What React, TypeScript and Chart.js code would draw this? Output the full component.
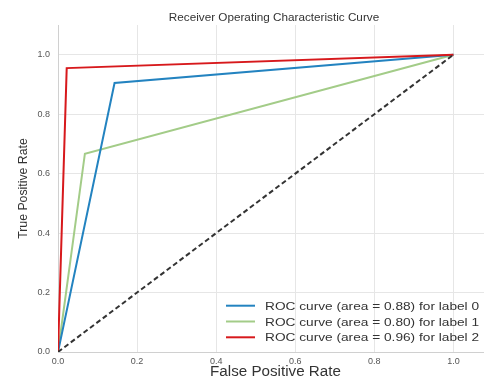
import React, { useEffect, useRef } from "react";
import { Chart, registerables } from "chart.js";

Chart.register(...registerables);

// ---- data ----
const chartTitle = "Receiver Operating Characteristic Curve";
const xAxisTitle = "False Positive Rate";
const yAxisTitle = "True Positive Rate";

const classNames = ["0", "1", "2"];
const aucValues = [0.88, 0.8, 0.96];

const fprLabel0 = [0, 0.143, 1];
const tprLabel0 = [0, 0.905, 1];
const fprLabel1 = [0, 0.068, 1];
const tprLabel1 = [0, 0.667, 1];
const fprLabel2 = [0, 0.022, 1];
const tprLabel2 = [0, 0.955, 1];

const chanceX = [0, 1];
const chanceY = [0, 1];

const xTicks = [0, 0.2, 0.4, 0.6, 0.8, 1.0];
const yTicks = [0, 0.2, 0.4, 0.6, 0.8, 1.0];

const seriesColors = ["#2383c0", "#a3cc88", "#d7191c"];
const FONT = '"Liberation Sans", Arial, sans-serif';

const toPoints = (xs: number[], ys: number[]) => xs.map((x, i) => ({ x, y: ys[i] }));

const overlayPlugin = {
  id: "overlayText",
  afterDraw(chart: any) {
    const { ctx, chartArea } = chart;
    // title
    ctx.save();
    ctx.fillStyle = "#333333";
    ctx.font = `10.2px ${FONT}`;
    ctx.textAlign = "center";
    ctx.textBaseline = "alphabetic";
    ctx.translate((chartArea.left + chartArea.right) / 2 - 1.5, 20.7);
    ctx.scale(1.15, 1);
    ctx.fillText(chartTitle, 0, 0);
    ctx.restore();

    // legend (lower right inside plot)
    const items = chart.data.datasets.filter((d: any) => d.label);
    const rowGap = 15.8;
    const lastRowY = chartArea.bottom - 14.7;
    const lineX0 = 226;
    const lineX1 = 255;
    const textX = 265;
    items.forEach((d: any, i: number) => {
      const y = lastRowY - (items.length - 1 - i) * rowGap;
      ctx.save();
      ctx.strokeStyle = d.borderColor;
      ctx.lineWidth = 2;
      ctx.beginPath();
      ctx.moveTo(lineX0, y);
      ctx.lineTo(lineX1, y);
      ctx.stroke();
      ctx.fillStyle = "#333333";
      ctx.font = `11.6px ${FONT}`;
      ctx.textAlign = "left";
      ctx.textBaseline = "alphabetic";
      ctx.translate(textX, y + 4.1);
      ctx.scale(1.18, 1);
      ctx.fillText(d.label, 0, 0);
      ctx.restore();
    });
  },
};

export default function App() {
  const canvasRef = useRef<HTMLCanvasElement | null>(null);

  useEffect(() => {
    if (!canvasRef.current) return;
    const xsList = [fprLabel0, fprLabel1, fprLabel2];
    const ysList = [tprLabel0, tprLabel1, tprLabel2];
    const drawOrder = [2, 3, 1];
    const datasets: any[] = classNames.map((name, i) => ({
      label: `ROC curve (area = ${aucValues[i].toFixed(2)}) for label ${name}`,
      data: toPoints(xsList[i], ysList[i]),
      borderColor: seriesColors[i],
      backgroundColor: seriesColors[i],
      borderWidth: 2,
      pointRadius: 0,
      fill: false,
      tension: 0,
      order: drawOrder[i],
    }));
    datasets.push({
      label: "",
      data: toPoints(chanceX, chanceY),
      borderColor: "#333333",
      backgroundColor: "#333333",
      borderWidth: 2,
      borderDash: [5, 3],
      pointRadius: 0,
      fill: false,
      order: 0,
    });

    const tickFont = { family: FONT, size: 9 };
    const chart = new Chart(canvasRef.current, {
      type: "line",
      data: { datasets },
      plugins: [overlayPlugin],
      options: {
        animation: false,
        responsive: false,
        devicePixelRatio: 1,
        layout: { padding: { top: 25, left: 0, right: 0, bottom: 0 } },
        plugins: {
          legend: { display: false },
          title: { display: false },
          tooltip: { enabled: false },
        },
        scales: {
          x: {
            type: "linear",
            min: 0,
            max: 1.1,
            afterBuildTicks: (s: any) => {
              s.ticks = xTicks.map((v) => ({ value: v }));
            },
            afterFit: (s: any) => {
              s.height = 26;
            },
            ticks: {
              font: tickFont,
              color: "#555555",
              padding: 4,
              maxRotation: 0,
              autoSkip: false,
              callback: (v: any) => Number(v).toFixed(1),
            },
            grid: { color: "#e6e6e6", lineWidth: 1, drawTicks: false },
            border: { display: true, color: "#d0d0d0", width: 1 },
            title: {
              display: true,
              text: xAxisTitle,
              color: "#333333",
              font: { family: FONT, size: 15.2, lineHeight: 0.75 },
              padding: { top: 0, bottom: 0 },
            },
          },
          y: {
            type: "linear",
            min: 0,
            max: 1.1,
            afterBuildTicks: (s: any) => {
              s.ticks = yTicks.map((v) => ({ value: v }));
            },
            afterFit: (s: any) => {
              s.width = 58;
            },
            ticks: {
              font: tickFont,
              color: "#555555",
              padding: 8,
              autoSkip: false,
              callback: (v: any) => Number(v).toFixed(1),
            },
            grid: { color: "#e6e6e6", lineWidth: 1, drawTicks: false },
            border: { display: true, color: "#d0d0d0", width: 1 },
            title: {
              display: true,
              text: yAxisTitle,
              color: "#333333",
              font: { family: FONT, size: 12.3, lineHeight: 1.2 },
              padding: { top: 16, bottom: 0 },
            },
          },
        },
      } as any,
    });
    return () => chart.destroy();
  }, []);

  return (
    <div
      style={{
        position: "absolute",
        left: 0,
        top: 0,
        width: 484,
        height: 378,
        overflow: "hidden",
        background: "#ffffff",
      }}
    >
      <canvas ref={canvasRef} width={493} height={378} style={{ display: "block" }} />
    </div>
  );
}
